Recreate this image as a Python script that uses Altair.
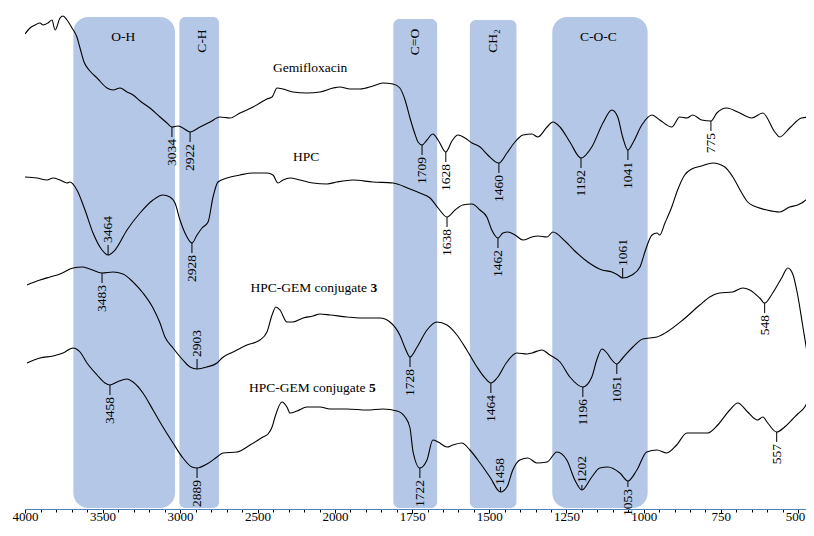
import altair as alt
import pandas as pd

# ---- spectra: wavenumber (cm-1) and offset transmittance (a.u.) ----
gemi_wn = [4000,3968,3935,3903,3884,3852,3826,3806,3774,3755,3729,3697,3665,3645,3619,3581,3535,3471,3432,3387,
           3342,3303,3258,3194,3129,3084,3052,3013,2981,2935,2871,2806,2742,2677,2613,2529,2439,2406,2374,2335,
           2271,2181,2097,2013,1984,1951,1919,1877,1845,1812,1790,1773,1757,1741,1731,1718,1702,1683,1666,1641,
           1621,1602,1579,1556,1530,1505,1469,1443,1417,1391,1362,1343,1313,1294,1271,1239,1203,1168,1132,1103,
           1084,1068,1051,1035,1006,973,948,909,883,860,841,812,782,763,731,695,650,614,575,559,527,488,455]
gemi_t = [477,483,486,488,486,488,491,481,493,495,491,483,474,463,449,440,433,423,421,423,
          419,416,410,403,394,388,384,385,383,379,384,389,394,393,398,404,412,414,423,422,
          419,418,419,423,424,422,422,425,428,427,423,411,393,377,369,366,371,377,371,359,
          370,376,373,368,364,356,348,358,369,376,377,374,384,389,384,369,353,364,388,401,
          394,374,361,368,386,396,391,384,394,393,396,391,390,398,403,399,393,398,379,374,383,393,394]

hpc_wn = [4000,3923,3858,3819,3774,3729,3710,3665,3613,3561,3503,3464,3419,3342,3258,3174,3110,3065,3032,3000,
          2968,2923,2890,2858,2819,2787,2755,2697,2613,2529,2439,2400,2368,2335,2290,2226,2142,2052,1994,1942,
          1877,1812,1757,1725,1692,1666,1637,1611,1586,1556,1530,1508,1492,1472,1456,1440,1417,1391,1362,1343,
          1313,1294,1255,1223,1181,1135,1103,1084,1068,1038,1012,996,973,957,948,931,909,890,867,844,
          812,776,737,711,682,663,634,601,559,527,501,488,469,455]
hpc_t = [334,333,331,333,331,328,329,321,301,278,261,256,261,281,298,311,316,314,308,291,
         278,268,276,283,289,314,329,333,336,338,338,336,328,331,333,331,328,327,329,331,
         329,328,322,318,313,303,294,301,306,307,301,294,281,273,278,279,276,271,274,275,
         274,279,270,260,249,241,239,236,233,236,244,259,276,278,276,288,304,321,336,342,
         345,348,344,334,318,309,304,301,299,304,306,308,312,313]

conj3_wn = [3987,3903,3839,3774,3690,3632,3581,3503,3432,3368,3303,3239,3174,3129,3097,3045,2981,2935,2890,2826,
            2761,2729,2658,2568,2484,2439,2406,2381,2355,2310,2271,2206,2142,2097,2032,1961,1919,1854,1822,1790,
            1773,1757,1734,1702,1670,1637,1605,1573,1540,1514,1495,1475,1443,1411,1378,1362,1330,1304,1271,1239,
            1197,1168,1152,1135,1119,1103,1087,1068,1035,1003,957,925,873,818,786,754,712,679,656,624,
            608,582,553,533,517,501,485,469,455]
conj3_t = [226,231,234,237,243,244,242,238,239,237,229,218,203,188,174,163,151,144,142,144,
           148,153,159,166,171,179,196,204,201,189,189,193,195,197,196,194,193,193,189,176,
           163,154,164,181,189,186,176,161,144,133,128,133,149,158,157,158,161,156,149,134,
           124,134,151,162,158,151,147,153,164,172,174,179,191,206,214,218,219,223,221,213,
           208,218,233,243,237,216,186,156,134]

conj5_wn = [3987,3903,3819,3755,3690,3645,3600,3535,3484,3452,3406,3342,3303,3239,3174,3110,3045,2981,2923,2890,
            2826,2761,2723,2632,2548,2465,2432,2406,2387,2342,2310,2290,2245,2181,2097,2032,1961,1896,1845,1799,
            1773,1757,1747,1725,1702,1683,1666,1637,1618,1589,1563,1530,1498,1464,1443,1424,1401,1375,1346,1313,
            1281,1249,1223,1200,1168,1142,1116,1077,1051,1022,990,957,925,893,860,828,792,760,721,695,
            663,631,614,598,569,543,520,501,478,462,455]
conj5_t = [148,153,155,158,163,159,148,136,128,126,129,132,129,118,101,84,68,53,44,43,
           47,54,58,59,66,74,77,84,94,109,104,98,100,104,104,102,102,101,102,100,
           94,83,59,43,51,71,69,64,66,68,61,48,34,19,24,41,51,53,48,49,
           59,51,31,21,34,43,44,38,30,41,59,61,58,66,78,78,78,86,101,108,
           99,91,94,88,79,84,91,97,104,114,121]

# ---- shaded bands ----
band_name = ["O-H", "C-H", "C=O", "CH\u2082", "C-O-C"]
band_from = [3688, 3004, 1811, 1563, 1296]
band_to = [3032, 2748, 1669, 1412, 987]
band_top = [494, 494, 492, 491, 494]
band_bottom = [3, 3, 3, 3, 3]
band_wide = [True, False, False, False, True]
band_label_wn = [3366, 2860, 1741, 1487, 1147]
band_label_t = [474, 470, 469, 470, 474]

# ---- peak labels ----
peak_text = ["3034","2922","1709","1628","1460","1192","1041","775",
             "3464","2928","1638","1462","1061",
             "3483","2903","1728","1464","1196","1051","548",
             "3458","2889","1722","1458","1202","1053","557"]
peak_wn = [3052,2935,1718,1641,1469,1203,1051,782,
           3464,2923,1637,1472,1068,
           3503,2890,1757,1495,1197,1087,608,
           3452,2890,1725,1464,1200,1051,569]
peak_t = [384,379,366,359,348,353,361,390,
          256,268,294,273,233,
          238,142,154,128,124,147,208,
          126,43,43,19,21,30,79]
peak_side = ["below"]*8 + ["above","below","below","below","above"] + \
            ["below","above","below","below","below","below","below"] + \
            ["below","below","below","above","above","below","below"]
peak_tick = [10]*23 + [5, 5, 6, 10]

# ---- series names ----
name_text = ["Gemifloxacin", "HPC"]
name_wn = [2161, 2187]
name_t = [443, 354]
conj_text = ["HPC-GEM conjugate", "HPC-GEM conjugate"]
conj_num = ["3", "5"]
conj_wn = [1896, 1901]
conj_t = [223, 123]

major_ticks = [4000, 3500, 3000, 2500, 2000, 1750, 1500, 1250, 1000, 750, 500]
all_ticks = list(range(4000, 2000, -100)) + list(range(2000, 499, -50))

FONT = "Liberation Serif"

spectra = pd.concat([
    pd.DataFrame({"series": "Gemifloxacin", "wn": gemi_wn, "t": gemi_t}),
    pd.DataFrame({"series": "HPC", "wn": hpc_wn, "t": hpc_t}),
    pd.DataFrame({"series": "conj3", "wn": conj3_wn, "t": conj3_t}),
    pd.DataFrame({"series": "conj5", "wn": conj5_wn, "t": conj5_t}),
], ignore_index=True)

bands = pd.DataFrame({"name": band_name, "x1": band_from, "x2": band_to,
                      "y1": band_bottom, "y2": band_top, "wide": band_wide,
                      "lx": band_label_wn, "ly": band_label_t})
peaks = pd.DataFrame({"text": peak_text, "wn": peak_wn, "t": peak_t,
                      "side": peak_side, "tick": peak_tick})
peaks["sgn"] = peaks["side"].map({"below": -1, "above": 1})
peaks["tend"] = peaks["t"] + peaks["sgn"] * peaks["tick"]
peaks["tlab"] = peaks["tend"] + peaks["sgn"] * 2

names = pd.DataFrame({"text": name_text, "wn": name_wn, "t": name_t})
conj = pd.DataFrame({"text": conj_text, "num": conj_num, "wn": conj_wn, "t": conj_t})

major_str = ",".join(str(v) for v in major_ticks)
is_major = f"indexof([{major_str}], datum.value) >= 0"

# x: expanded scale below 2000 cm-1 (as in the original figure)
x_scale = alt.Scale(domain=[4000, 2000, 474], range=[0, 310, 781], nice=False, zero=False)
y_scale = alt.Scale(domain=[2, 503], nice=False, zero=False)

x_axis = alt.Axis(values=all_ticks, format="d", title=None, grid=False,
                  labelExpr=f"{is_major} ? datum.label : ''",
                  tickSize={"condition": {"test": is_major, "value": 4}, "value": 3},
                  labelOffset={"condition": {"test": "datum.value === 500", "value": -3}, "value": 0},
                  domainColor="#4f81bd", domainWidth=1.2, tickColor="#000000", tickWidth=1,
                  labelFont=FONT, labelFontSize=13, labelColor="#000000",
                  labelPadding=-3, labelOverlap=False, labelFlush=False, labelBound=False)

def X(field):
    return alt.X(f"{field}:Q", scale=x_scale, axis=x_axis)

def Y(field):
    return alt.Y(f"{field}:Q", scale=y_scale, axis=None)

band_color = "#b4c7e7"
wide_bands = alt.Chart(bands).transform_filter("datum.wide").mark_rect(
    color=band_color, cornerRadius=15).encode(x=X("x1"), x2="x2:Q", y=Y("y1"), y2="y2:Q")
narrow_bands = alt.Chart(bands).transform_filter("!datum.wide").mark_rect(
    color=band_color, cornerRadius=6).encode(x=X("x1"), x2="x2:Q", y=Y("y1"), y2="y2:Q")

band_h = alt.Chart(bands).transform_filter("datum.wide").mark_text(
    font=FONT, fontSize=13.5, color="#000000", align="center", baseline="middle"
).encode(x=X("lx"), y=Y("ly"), text="name:N")
band_v = alt.Chart(bands).transform_filter("!datum.wide").mark_text(
    font=FONT, fontSize=13.5, color="#000000", align="center", baseline="middle", angle=270
).encode(x=X("lx"), y=Y("ly"), text="name:N")

lines = alt.Chart(spectra).mark_line(color="#000000", strokeWidth=1.1, interpolate="monotone",
                                     clip=True).encode(
    x=X("wn"), y=Y("t"), detail="series:N", order=alt.Order("wn:Q", sort="descending"))

ticks = alt.Chart(peaks).mark_rule(color="#000000", strokeWidth=1).encode(
    x=X("wn"), y=Y("t"), y2="tend:Q")

peak_below = alt.Chart(peaks).transform_filter("datum.side == 'below'").mark_text(
    font=FONT, fontSize=13.5, color="#000000", angle=270, align="right", baseline="middle"
).encode(x=X("wn"), y=Y("tlab"), text="text:N")
peak_above = alt.Chart(peaks).transform_filter("datum.side == 'above'").mark_text(
    font=FONT, fontSize=13.5, color="#000000", angle=270, align="left", baseline="middle"
).encode(x=X("wn"), y=Y("tlab"), text="text:N")

name_lbl = alt.Chart(names).mark_text(
    font=FONT, fontSize=13.5, color="#000000", align="center", baseline="middle"
).encode(x=X("wn"), y=Y("t"), text="text:N")
conj_lbl = alt.Chart(conj).mark_text(
    font=FONT, fontSize=13.5, color="#000000", align="right", baseline="middle"
).encode(x=X("wn"), y=Y("t"), text="text:N")
conj_num_lbl = alt.Chart(conj).mark_text(
    font=FONT, fontSize=13.5, color="#000000", align="left", baseline="middle",
    fontWeight="bold", dx=3.5
).encode(x=X("wn"), y=Y("t"), text="num:N")

chart = alt.layer(
    wide_bands, narrow_bands, band_h, band_v, lines, ticks, peak_below, peak_above,
    name_lbl, conj_lbl, conj_num_lbl
).properties(
    width=781, height=501,
    autosize=alt.AutoSizeParams(type="none"),
    padding={"left": 17, "top": 0, "right": 0, "bottom": 15},
    background="white"
).configure_view(stroke=None)

chart.save("out.html", embed_options={"renderer": "svg", "actions": False})
